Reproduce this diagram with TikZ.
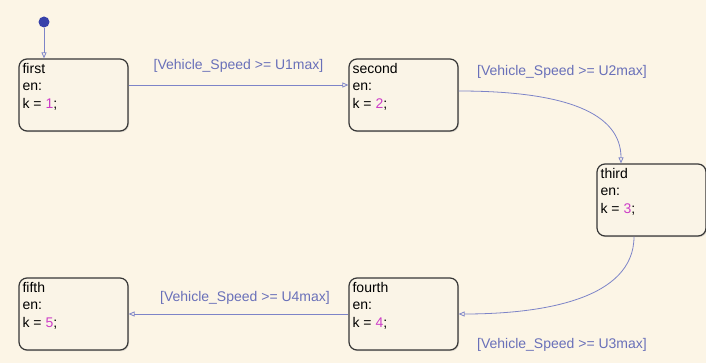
\documentclass[tikz,border=0pt]{standalone}
\usepackage{fontspec}
\setmainfont{Liberation Sans}
\usetikzlibrary{arrows.meta,shadows}
\definecolor{bgcream}{RGB}{252,245,230}
\definecolor{statefill}{RGB}{250,244,231}
\definecolor{stateedge}{RGB}{55,55,55}
\definecolor{transline}{RGB}{125,132,200}
\definecolor{guardtext}{RGB}{105,112,185}
\definecolor{valmag}{RGB}{205,60,200}
\definecolor{initdot}{RGB}{55,65,170}
\tikzset{
  statebox/.style={draw=stateedge, line width=1.2pt, rounded corners=8pt,
    fill=statefill, minimum width=109pt, minimum height=72pt, inner sep=0pt,
    drop shadow={shadow xshift=1pt, shadow yshift=-1.2pt, opacity=0.25}},
  statetext/.style={anchor=north west, align=left, inner sep=0pt,
    font=\fontsize{14}{17.5}\selectfont, text=black, xshift=4pt, yshift=-4.5pt},
  trans/.style={draw=transline, line width=0.8pt,
    -{Triangle[open, length=6pt, width=5pt]}},
  guard/.style={text=guardtext, font=\fontsize{14}{17}\selectfont, inner sep=0pt},
}
\begin{document}
\begin{tikzpicture}[x=1pt, y=-1pt]
  % canvas
  \fill[bgcream] (0,0) rectangle (706,363);
  \useasboundingbox (0,0) rectangle (706,363);

  % states
  \node[statebox] (first)  at (73.5,95)  {};
  \node[statebox] (second) at (403.5,95) {};
  \node[statebox] (third)  at (651.5,200) {};
  \node[statebox] (fourth) at (403.5,314) {};
  \node[statebox] (fifth)  at (73.5,314) {};

  \node[statetext] (firstT)  at (first.north west)  {first\\en:\\k = \textcolor{valmag}{1};};
  \node[statetext] (secondT) at (second.north west) {second\\en:\\k = \textcolor{valmag}{2};};
  \node[statetext] (thirdT)  at (third.north west)  {third\\en:\\k = \textcolor{valmag}{3};};
  \node[statetext] (fourthT) at (fourth.north west) {fourth\\en:\\k = \textcolor{valmag}{4};};
  \node[statetext] (fifthT)  at (fifth.north west)  {fifth\\en:\\k = \textcolor{valmag}{5};};

  % default transition
  \node[circle, fill=initdot, minimum size=11pt, inner sep=0pt] (init) at (44,22) {};
  \draw[trans] (init) -- (init |- first.north);

  % transitions
  \coordinate (s1out) at ([yshift=10pt]first.east);
  \coordinate (s2in)  at ([yshift=10pt]second.west);
  \draw[trans] (s1out) -- (s2in);

  \coordinate (s2out) at ([yshift=4pt]second.east);
  \coordinate (s3in)  at ([xshift=-30.5pt]third.north);
  \draw[trans] (s2out) .. controls +(108,0) and +(0,-50) .. (s3in);

  \coordinate (s3out) at ([xshift=-17.5pt]third.south);
  \coordinate (s4in)  at (fourth.east);
  \draw[trans] (s3out) .. controls +(0,63) and +(83,0) .. (s4in);

  \draw[trans] (fourth.west) -- (fifth.east);

  % guards
  \node[guard] (g1) at (238.5,66) {[Vehicle\_Speed >= U1max]};
  \node[guard] (g2) at (562,72)   {[Vehicle\_Speed >= U2max]};
  \node[guard] (g3) at (562,345)  {[Vehicle\_Speed >= U3max]};
  \node[guard] (g4) at (245,298)  {[Vehicle\_Speed >= U4max]};
\end{tikzpicture}
\end{document}
